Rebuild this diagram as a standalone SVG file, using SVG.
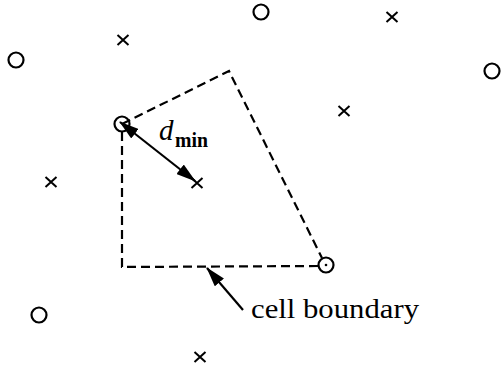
<svg xmlns="http://www.w3.org/2000/svg" width="503" height="368" viewBox="0 0 503 368">
<style>
.o{fill:none;stroke:#000;stroke-width:2.2}
.x{stroke:#000;stroke-width:2;fill:none}
.d{fill:none;stroke:#000;stroke-width:2.2;stroke-dasharray:9 5}
.a{stroke:#000;stroke-width:2.2;fill:none}
.t{font-family:"Liberation Serif","Times New Roman",serif;fill:#000}
</style>
<defs>
<marker id="ah" viewBox="0 0 20 12" refX="19" refY="6" markerWidth="20" markerHeight="12" markerUnits="userSpaceOnUse" orient="auto-start-reverse">
<path d="M0,0 L20,6 L0,12 z" fill="#000"/>
</marker>
<g id="xm"><path d="M-5.5,-5 L5.5,5 M-5.5,5 L5.5,-5"/></g>
</defs>
<rect width="503" height="368" fill="#fff"/>
<g id="cell">
<path class="d" d="M122,124 L229,71 L322,258"/>
<path class="d" d="M318,266 L122,267 L122,131"/>
</g>
<g id="circles">
<circle class="o" cx="261" cy="12" r="7.5"/>
<circle class="o" cx="16" cy="60" r="7.5"/>
<circle class="o" cx="492" cy="71" r="7.5"/>
<circle class="o" cx="39" cy="315" r="7.5"/>
<circle class="o" cx="122" cy="124" r="7.5"/>
<circle class="o" cx="326" cy="265" r="7.5"/>
<circle cx="326" cy="265" r="1.3" fill="#000"/>
</g>
<g id="crosses" class="x">
<use href="#xm" x="123" y="40"/>
<use href="#xm" x="392" y="17"/>
<use href="#xm" x="344" y="111"/>
<use href="#xm" x="51" y="182"/>
<use href="#xm" x="197" y="183"/>
<use href="#xm" x="200" y="357"/>
</g>
<g id="connectors">
<line class="a" x1="120" y1="122" x2="195" y2="181" marker-start="url(#ah)" marker-end="url(#ah)"/>
<line class="a" x1="243" y1="310" x2="207" y2="268" marker-end="url(#ah)"/>
</g>
<g id="labels">
<text class="t" x="159" y="140" font-size="29" font-style="italic">d</text>
<text class="t" x="175" y="147" font-size="22" font-weight="bold" textLength="33" lengthAdjust="spacingAndGlyphs">min</text>
<text class="t" x="251" y="318" font-size="28" textLength="168" lengthAdjust="spacingAndGlyphs">cell boundary</text>
</g>
</svg>
